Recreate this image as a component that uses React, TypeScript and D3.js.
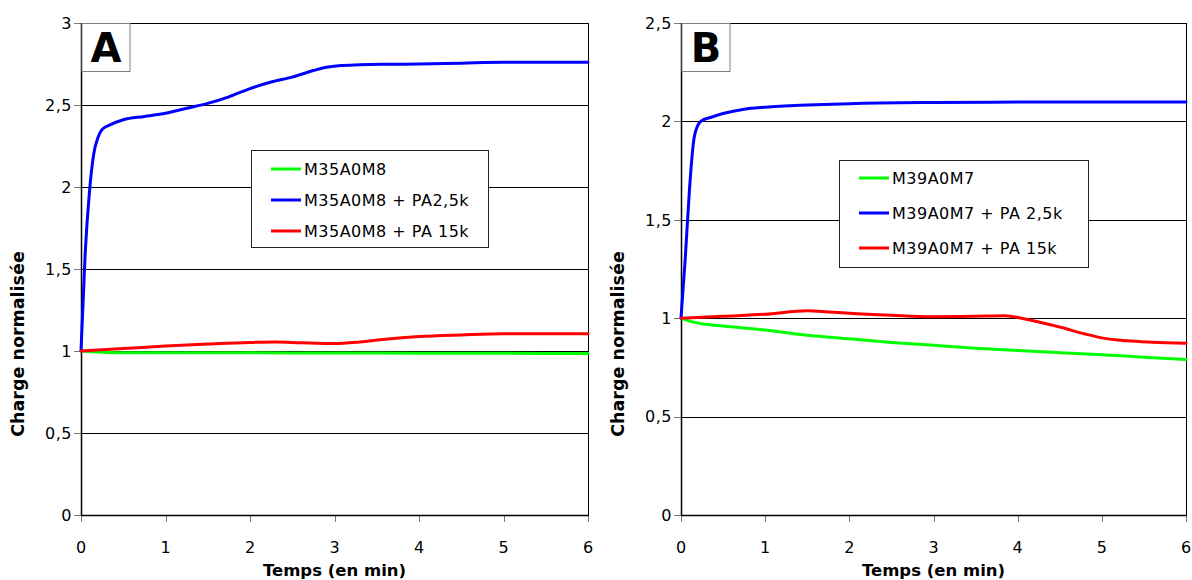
import React from "react";
import * as d3 from "d3";

// ---------- data ----------
const xTicks = [0, 1, 2, 3, 4, 5, 6];
const yTicksA = [0, 0.5, 1, 1.5, 2, 2.5, 3];
const yTicksB = [0, 0.5, 1, 1.5, 2, 2.5];

const legendA = ["M35A0M8", "M35A0M8 + PA2,5k", "M35A0M8 + PA 15k"];
const legendB = ["M39A0M7", "M39A0M7 + PA 2,5k", "M39A0M7 + PA 15k"];

const greenA_t = [0, 0.25, 0.5, 1, 2, 3, 4, 5, 6];
const greenA_v = [1.0, 0.993, 0.99, 0.99, 0.989, 0.988, 0.987, 0.986, 0.985];

const blueA_t = [0, 0.05, 0.1, 0.15, 0.2, 0.25, 0.35, 0.5, 0.75, 1, 1.25, 1.5, 1.75, 2, 2.25, 2.5, 2.75, 2.9, 3.05, 3.3, 3.6, 4, 4.5, 5, 6];
const blueA_v = [1.0, 1.6, 1.97, 2.2, 2.3, 2.35, 2.38, 2.41, 2.43, 2.45, 2.48, 2.51, 2.55, 2.6, 2.64, 2.67, 2.71, 2.73, 2.74, 2.745, 2.748, 2.75, 2.755, 2.76, 2.76];

const redA_t = [0, 0.5, 1, 1.5, 2, 2.3, 2.6, 3, 3.3, 3.6, 4, 4.5, 5, 5.5, 6];
const redA_v = [1.0, 1.015, 1.03, 1.042, 1.052, 1.055, 1.05, 1.045, 1.055, 1.072, 1.088, 1.098, 1.105, 1.105, 1.105];

const greenB_t = [0, 0.1, 0.25, 0.5, 1, 1.5, 2, 2.5, 3, 3.5, 4, 4.5, 5, 5.5, 6];
const greenB_v = [1.0, 0.985, 0.972, 0.96, 0.94, 0.913, 0.895, 0.877, 0.862, 0.847, 0.836, 0.825, 0.814, 0.802, 0.79];

const blueB_t = [0, 0.05, 0.1, 0.15, 0.2, 0.25, 0.35, 0.5, 0.75, 1, 1.5, 2, 3, 4, 5, 6];
const blueB_v = [1.0, 1.3, 1.65, 1.9, 1.98, 2.005, 2.02, 2.04, 2.062, 2.072, 2.083, 2.09, 2.096, 2.098, 2.098, 2.098];

const redB_t = [0, 0.5, 1, 1.5, 1.75, 2, 2.5, 3, 3.5, 3.85, 4.1, 4.5, 4.8, 5, 5.3, 5.6, 6];
const redB_v = [1.0, 1.01, 1.02, 1.038, 1.032, 1.025, 1.015, 1.008, 1.01, 1.012, 0.995, 0.955, 0.92, 0.9, 0.885, 0.878, 0.873];

const COLORS = ["#00ff00", "#0000ff", "#ff0000"];
const FONT = "'DejaVu Sans', Verdana, sans-serif";

type Series = { t: number[]; v: number[] };

type PanelProps = {
  letter: string;
  x0: number;
  x1: number;
  yMax: number;
  yTicks: number[];
  series: Series[];
  legend: string[];
  legendBox: { x: number; y: number; w: number; h: number; rowGap: number; first: number };
  yTitleX: number;
};

const fmt = (v: number) => String(v).replace(".", ",");

function Panel(p: PanelProps) {
  const top = 23;
  const bottom = 515;
  const x = d3.scaleLinear().domain([0, 6]).range([p.x0, p.x1]);
  const y = d3.scaleLinear().domain([0, p.yMax]).range([bottom, top]);
  const line = d3
    .line<[number, number]>()
    .x((d) => x(d[0]))
    .y((d) => y(d[1]))
    .curve(d3.curveMonotoneX);

  const lb = p.legendBox;
  return (
    <g>
      {p.yTicks
        .filter((t) => t > 0)
        .map((t) => (
          <line key={"g" + t} x1={p.x0} x2={p.x1} y1={Math.round(y(t)) + 0.5} y2={Math.round(y(t)) + 0.5} stroke="#000" strokeWidth={1} />
        ))}
      <line x1={p.x1 + 0.5} x2={p.x1 + 0.5} y1={top} y2={bottom} stroke="#000" strokeWidth={1} />
      {p.yTicks.map((t) => (
        <g key={"y" + t}>
          <line x1={p.x0 - 7} x2={p.x0} y1={Math.round(y(t)) + 0.5} y2={Math.round(y(t)) + 0.5} stroke="#777" strokeWidth={1} />
          <text x={p.x0 - 9} y={y(t)} dy="0.36em" textAnchor="end" fontFamily={FONT} fontSize={16} letterSpacing={0.5} fill="#000">
            {fmt(t)}
          </text>
        </g>
      ))}
      {xTicks.map((t) => (
        <g key={"x" + t}>
          <line x1={Math.round(x(t)) + 0.5} x2={Math.round(x(t)) + 0.5} y1={bottom} y2={bottom + 7} stroke="#777" strokeWidth={1} />
          <text x={x(t)} y={553} textAnchor="middle" fontFamily={FONT} fontSize={16} fill="#000">
            {t}
          </text>
        </g>
      ))}
      <line x1={p.x0} x2={p.x1 + 1} y1={bottom + 0.5} y2={bottom + 0.5} stroke="#000" strokeWidth={1.3} />
      <line x1={p.x0 + 0.5} x2={p.x0 + 0.5} y1={top} y2={bottom + 1} stroke="#000" strokeWidth={1.5} />
      {p.series.map((s, i) => (
        <path
          key={"s" + i}
          d={line(s.t.map((t, k) => [t, s.v[k]] as [number, number])) || ""}
          fill="none"
          stroke={COLORS[i]}
          strokeWidth={3}
          strokeLinejoin="round"
          strokeLinecap="round"
        />
      ))}
      <rect x={p.x0 + 1} y={top + 0.5} width={48} height={48} fill="#fff" stroke="#808080" strokeWidth={1} />
      <text x={p.x0 + 25} y={top + 39} textAnchor="middle" fontFamily={FONT} fontWeight="bold" fontSize={40} fill="#000">
        {p.letter}
      </text>
      <rect x={lb.x + 0.5} y={lb.y + 0.5} width={lb.w} height={lb.h} fill="#fff" stroke="#222" strokeWidth={1} />
      {p.legend.map((name, i) => {
        const cy = lb.y + lb.first + i * lb.rowGap;
        return (
          <g key={"l" + i}>
            <line x1={lb.x + 20} x2={lb.x + 50} y1={cy} y2={cy} stroke={COLORS[i]} strokeWidth={3} />
            <text x={lb.x + 53} y={cy} dy="0.36em" fontFamily={FONT} fontSize={16} letterSpacing={0.5} fill="#000">
              {name}
            </text>
          </g>
        );
      })}
      <text x={(p.x0 + p.x1) / 2} y={576} textAnchor="middle" fontFamily={FONT} fontWeight="bold" fontSize={16.5} fill="#000">
        Temps (en min)
      </text>
      <text
        transform={`translate(${p.yTitleX},${(top + bottom) / 2 + 75}) rotate(-90)`}
        textAnchor="middle"
        fontFamily={FONT}
        fontWeight="bold"
        fontSize={17.5}
        fill="#000"
      >
        Charge normalisée
      </text>
    </g>
  );
}

export default function App() {
  return (
    <svg width={1192} height={580} style={{ position: "absolute", left: 0, top: 0, background: "#fff" }}>
      <rect width={1192} height={580} fill="#fff" />
      <Panel
        letter="A"
        x0={81}
        x1={588}
        yMax={3}
        yTicks={yTicksA}
        series={[
          { t: greenA_t, v: greenA_v },
          { t: blueA_t, v: blueA_v },
          { t: redA_t, v: redA_v },
        ]}
        legend={legendA}
        legendBox={{ x: 251, y: 150, w: 237, h: 97, rowGap: 31, first: 19 }}
        yTitleX={24}
      />
      <Panel
        letter="B"
        x0={681}
        x1={1186}
        yMax={2.5}
        yTicks={yTicksB}
        series={[
          { t: greenB_t, v: greenB_v },
          { t: blueB_t, v: blueB_v },
          { t: redB_t, v: redB_v },
        ]}
        legend={legendB}
        legendBox={{ x: 839, y: 160, w: 249, h: 107, rowGap: 35, first: 18 }}
        yTitleX={624}
      />
    </svg>
  );
}
